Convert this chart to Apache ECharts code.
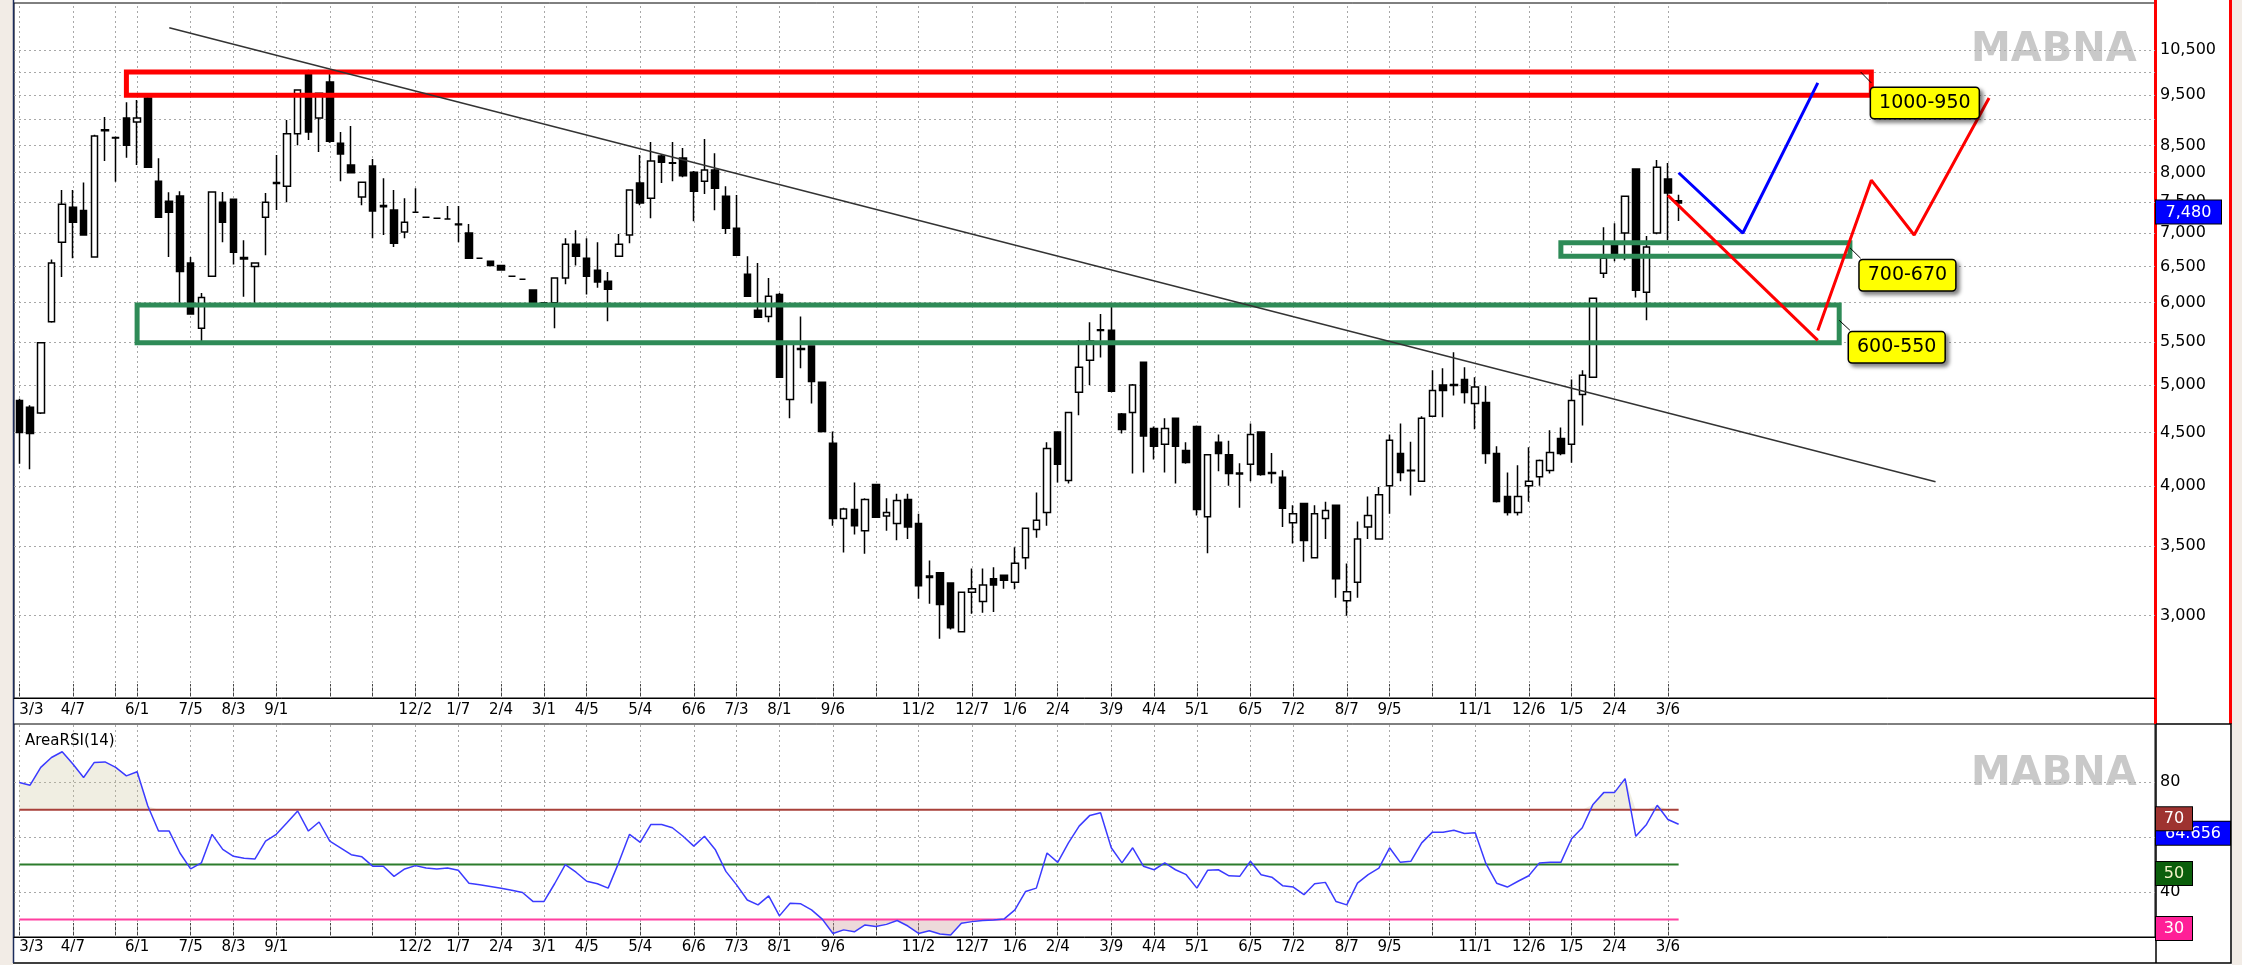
<!DOCTYPE html>
<html>
<head>
<meta charset="utf-8">
<title>MABNA weekly</title>
<script src="https://cdn.jsdelivr.net/npm/echarts@6.0.0/dist/echarts.min.js"></script>
<style>
  html, body { margin: 0; padding: 0; background: #fff; }
  #chart { width: 2242px; height: 965px; }
</style>
</head>
<body>
<div id="chart"></div>
<script>
// weekly candles, oldest first
const opens = [
  4830, 4760, 4700, 5750, 6860, 7410, 7360, 6640, 8780, 8650,
  9030, 8950, 9440, 7850, 7510, 7600, 6550, 5670, 6360, 7495,
  7545, 6630, 6500, 7250, 7810, 7765, 8720, 10000, 9030, 9780,
  8540, 8140, 7580, 8120, 7440, 7365, 7015, 7330, 7250, 7235,
  7220, 7140, 7000, 6620, 6575, 6515, 6360, 6320, 6170, 6000,
  6000, 6335, 6830, 6620, 6447, 6290, 6650, 6970, 7820, 7560,
  8300, 8180, 8265, 8010, 7850, 8047, 7595, 7075, 6390, 5900,
  5820, 6110, 4843, 5420, 5450, 5030, 4395, 3720, 3795, 3620,
  4010, 3740, 3680, 3880, 3680, 3275, 3300, 3225, 2895, 3160,
  3095, 3255, 3280, 3230, 3410, 3630, 3770, 4505, 4047, 4920,
  5281, 5650, 5644, 4690, 4705, 5258, 4540, 4385, 4645, 4325,
  4560, 3735, 4405, 4285, 4115, 4195, 4505, 4120, 4075, 3685,
  3845, 3410, 3720, 3830, 3100, 3230, 3650, 3555, 4000, 4295,
  4140, 4040, 4665, 5000, 5005, 5062, 4800, 4810, 4295, 3905,
  3770, 4000, 4080, 4138, 4440, 4385, 4895, 5085, 6405, 6815,
  7000, 8065, 6140, 7000, 7890, 7520
];
const closes = [
  4500, 4490, 5490, 6550, 7460, 7170, 6970, 8680, 8800, 8640,
  8500, 9030, 8100, 7250, 7330, 6430, 5850, 6070, 7665, 7170,
  6710, 6610, 6550, 7495, 7830, 8720, 9610, 8755, 9540, 8580,
  8340, 8000, 7835, 7350, 7420, 6845, 7170, 7330, 7250, 7235,
  7220, 7130, 6620, 6620, 6515, 6450, 6360, 6320, 6000, 6000,
  6335, 6830, 6650, 6360, 6280, 6180, 6830, 7700, 7480, 8210,
  8190, 8170, 7945, 7680, 8047, 7730, 7075, 6665, 6085, 5810,
  6085, 5085, 5500, 5410, 5040, 4510, 3720, 3800, 3660, 3880,
  3730, 3770, 3871, 3650, 3205, 3265, 3075, 2920, 3160, 3185,
  3210, 3210, 3245, 3370, 3640, 3705, 4345, 4195, 4705, 5200,
  5510, 5640, 4930, 4530, 5000, 4465, 4365, 4540, 4365, 4212,
  3795, 4285, 4295, 4110, 4105, 4480, 4100, 4110, 3805, 3760,
  3543, 3760, 3786, 3255, 3164, 3555, 3745, 3922, 4423, 4118,
  4135, 4645, 4940, 4940, 4995, 4918, 4978, 4295, 3862, 3770,
  3905, 4040, 4231, 4305, 4295, 4832, 5110, 6060, 6620, 6695,
  7595, 6168, 6785, 8100, 7650, 7480
];
const lows = [
  4200, 4150, 4690, 5740, 6350, 6620, 6960, 6630, 8210, 7840,
  8270, 8140, 8090, 7240, 6640, 6000, 5840, 5510, 6350, 6860,
  6530, 6080, 6000, 6665, 7365, 7495, 8500, 8600, 8375, 8550,
  7850, 7990, 7445, 6920, 6970, 6785, 6920, 7320, 7250, 7235,
  7220, 6860, 6610, 6610, 6510, 6445, 6360, 6320, 5990, 6000,
  5670, 6250, 6515, 6110, 6200, 5757, 6640, 6845, 7445, 7235,
  7820, 7850, 7920, 7186, 7630, 7364, 6985, 6660, 6080, 5800,
  5745, 5080, 4645, 5190, 4800, 4500, 3660, 3450, 3590, 3440,
  3725, 3620, 3545, 3555, 3115, 3080, 2850, 2910, 2890, 3013,
  3020, 3025, 3185, 3180, 3325, 3565, 3660, 4030, 4020, 4675,
  5000, 5315, 4920, 4490, 4110, 4120, 4240, 4120, 4020, 4200,
  3745, 3445, 4130, 4000, 3810, 4040, 4090, 4020, 3650, 3520,
  3380, 3405, 3555, 3122, 3000, 3122, 3555, 3550, 3760, 4040,
  3915, 4035, 4660, 4655, 4885, 4800, 4532, 4200, 3855, 3745,
  3745, 3860, 4000, 4110, 4280, 4210, 4570, 5080, 6335, 6575,
  6590, 6070, 5770, 6980, 6890, 7190
];
const highs = [
  4850, 4780, 5500, 6600, 7700, 7700, 7830, 8700, 9050, 8670,
  9350, 9400, 9500, 8260, 7660, 7680, 6640, 6130, 7680, 7665,
  7550, 6890, 6560, 7650, 8320, 8990, 9620, 10050, 9550, 10000,
  8755, 8870, 7840, 8245, 7905, 7700, 7560, 7730, 7250, 7235,
  7430, 7430, 7140, 6630, 6580, 6520, 6360, 6320, 6170, 6000,
  6340, 6920, 7045, 6920, 6860, 6420, 6985, 7710, 8320, 8565,
  8340, 8565, 8450, 8030, 8620, 8355, 7765, 7615, 6650, 6550,
  6335, 6130, 5510, 5820, 5460, 5040, 4510, 3810, 4030, 3890,
  4015, 3890, 3930, 3930, 3760, 3390, 3305, 3230, 3165, 3330,
  3330, 3340, 3285, 3490, 3645, 3940, 4405, 4510, 4710, 5520,
  5745, 5850, 5950, 4700, 5010, 5265, 4560, 4645, 4650, 4405,
  4570, 4290, 4480, 4420, 4205, 4590, 4510, 4300, 4140, 3830,
  3850, 3830, 3860, 3835, 3367, 3695, 3905, 3990, 4480, 4590,
  4410, 4665, 5165, 5190, 5375, 5200, 5085, 4990, 4365, 4120,
  4185, 4355, 4240, 4522, 4550, 5060, 5165, 6070, 7090, 7155,
  7600, 8070, 6955, 8230, 8175, 7620
];
// AreaRSI(14), one value per candle
const rsi = [
  79.9, 78.9, 85.4, 89.0, 91.1, 86.6, 81.7, 87.2, 87.4, 85.4,
  82.3, 83.8, 71.3, 62.2, 62.2, 54.2, 48.4, 50.6, 61.0, 55.5,
  53.0, 52.3, 52.0, 58.5, 61.0, 65.2, 69.5, 62.2, 65.5, 58.5,
  56.1, 53.6, 52.8, 49.4, 49.4, 45.7, 48.4, 49.6, 48.7, 48.4,
  48.7, 47.9, 43.2, 42.6, 42.0, 41.4, 40.6, 39.8, 36.5, 36.5,
  43.0, 50.0, 47.2, 43.9, 43.0, 41.4, 50.8, 61.0, 58.1, 64.6,
  64.6, 63.4, 60.3, 56.7, 60.3, 55.5, 47.5, 42.6, 37.1, 35.3,
  38.6, 31.3, 35.9, 35.7, 33.5, 30.1, 24.9, 26.2, 25.5, 28.0,
  27.4, 28.2, 29.6, 27.6, 24.9, 25.9, 24.7, 24.3, 28.6, 29.2,
  29.6, 29.8, 30.2, 33.5, 40.2, 41.4, 54.2, 50.8, 57.9, 64.0,
  67.9, 68.9, 56.1, 50.6, 56.1, 49.4, 48.1, 50.6, 48.1, 46.3,
  41.4, 47.9, 48.1, 45.9, 45.7, 51.2, 46.3, 45.4, 42.3, 41.8,
  39.0, 43.0, 43.5, 36.5, 35.3, 43.2, 46.3, 48.7, 56.1, 50.8,
  51.2, 57.9, 61.8, 61.8, 62.5, 61.3, 61.6, 50.3, 43.2, 41.8,
  43.9, 45.9, 50.6, 50.8, 50.8, 59.4, 63.4, 71.9, 76.2, 76.2,
  81.3, 60.3, 64.6, 71.6, 66.4, 64.656
];

// x ticks (candle index) and labels
const tickIdx = [0, 5, 9, 11, 16, 20, 24, 29, 33, 37, 41, 45, 49, 53, 58, 63, 67, 71,
  76, 80, 84, 89, 93, 97, 102, 106, 110, 115, 119, 124, 128, 132, 136, 141, 145, 149, 154];
const tickLbl = ['3/3', '4/7', '', '6/1', '7/5', '8/3', '9/1', '', '', '12/2', '1/7', '2/4', '3/1', '4/5', '5/4', '6/6', '7/3', '8/1',
  '9/6', '', '11/2', '12/7', '1/6', '2/4', '3/9', '4/4', '5/1', '6/5', '7/2', '8/7', '9/5', '', '11/1', '12/6', '1/5', '2/4', '3/6'];

// price scale
const priceGrid = [3000, 3500, 4000, 4500, 5000, 5500, 6000, 6500, 7000, 7500, 8000, 8500, 9000, 9500, 10000, 10500];
const priceLbl = [3000, 3500, 4000, 4500, 5000, 5500, 6000, 6500, 7000, 7500, 8000, 8500, 9500, 10500];
const lastPrice = 7480;
const rsiLbl = [40, 60, 80];
const rsiLevels = [70, 50, 30];
const lastRsi = 64.656;

// drawings on the price chart
const trendLine = [[14, 11030], [179, 4035]];
const blueZig = [[155, 8000], [161, 7000], [168, 9760]];
const redZigA = [[154, 7610], [168, 5520]];
const redZigB = [[168, 5640], [173, 7870], [177, 6970], [184, 9440]];
const zoneNames = ['1000-950', '700-670', '600-550'];
const zoneX = [[10, 173], [144, 171], [11, 170]];
const zoneY = [[10000, 9500], [6850, 6650], [5970, 5490]];
const noteAt = [[178, 9357], [176, 6376], [175, 5435]];
const noteLead = [[[172, 10000], [173, 9760]], [[171, 6775], [172, 6620]], [[170, 5770], [171, 5644]]];

const FONT = 'DejaVu Sans';
const N = 200;
const cats = Array.from({length: N}, (_, i) => String(i));
const lblOf = {};
tickIdx.forEach((i, k) => { lblOf[i] = tickLbl[k]; });
const candles = opens.map((o, i) => [o, closes[i], lows[i], highs[i]]);

const vGrid = () => ({
  silent: true, symbol: 'none', z: 1,
  label: {show: false},
  lineStyle: {color: '#a8a8a8', type: [2, 3], width: 1},
  data: tickIdx.map(i => ({xAxis: i}))
});

function xAxisOf(gi, margin) {
  return {
    type: 'category', gridIndex: gi, data: cats, boundaryGap: true,
    axisLine: {show: true, lineStyle: {color: '#000'}},
    axisTick: {show: true, inside: true, length: 14, alignWithLabel: true,
      interval: i => i in lblOf, lineStyle: {color: '#444'}},
    axisLabel: {interval: i => !!lblOf[i], formatter: v => lblOf[+v] || '',
      color: '#000', fontSize: 15, fontFamily: FONT, margin: margin, alignMinLabel: 'left'},
    splitLine: {show: false}
  };
}

const tagStyle = (bg, fg, w) => ({backgroundColor: bg, color: fg, fontSize: 16, fontFamily: FONT,
  width: w, align: 'center', padding: [4, 0, 3, 0], lineHeight: 18, borderColor: '#000', borderWidth: 1});

// value tag on the right scale: a bare axis that only carries one label
function tagAxis(type, gi, min, max, val, text, style) {
  return {type: type, gridIndex: gi, position: 'right', min: min, max: max,
    axisLine: {show: false}, axisTick: {show: false}, splitLine: {show: false},
    axisLabel: {customValues: [val], verticalAlign: 'top', margin: 1, hideOverlap: false,
      formatter: () => '{t|' + text + '}', rich: {t: style}}};
}

const chart = echarts.init(document.getElementById('chart'));
chart.setOption({
  animation: false,
  backgroundColor: '#fff',
  title: {text: 'AreaRSI(14)', left: 20, top: 729,
    textStyle: {fontSize: 15, fontWeight: 'normal', color: '#000', fontFamily: FONT}},
  grid: [
    {left: 14, top: 3, width: 2141, height: 695, show: true, borderColor: '#000', borderWidth: 1, backgroundColor: '#fff'},
    {left: 14, top: 724, width: 2141, height: 213, show: true, borderColor: '#000', borderWidth: 1, backgroundColor: '#fff'}
  ],
  xAxis: [xAxisOf(0, 5), xAxisOf(1, 3)],
  yAxis: [
    {type: 'log', gridIndex: 0, position: 'right', min: 2500, max: 11650,
      axisLine: {show: false},
      axisTick: {show: false, customValues: priceGrid},
      axisLabel: {customValues: priceLbl, formatter: v => Math.round(v).toLocaleString('en-US'),
        color: '#000', fontSize: 16, fontFamily: FONT, margin: 5},
      splitLine: {show: true, lineStyle: {color: '#a8a8a8', type: [2, 3]}}},
    {type: 'value', gridIndex: 1, position: 'right', min: 23.6, max: 101.2,
      axisLine: {show: false},
      axisTick: {show: false, customValues: rsiLbl},
      axisLabel: {customValues: rsiLbl, color: '#000', fontSize: 16, fontFamily: FONT, margin: 5},
      splitLine: {show: true, lineStyle: {color: '#a8a8a8', type: [2, 3]}}},
    tagAxis('log', 0, 2500, 11650, lastPrice, lastPrice.toLocaleString('en-US'), tagStyle('#0000ff', '#fff', 65)),
    tagAxis('value', 1, 23.6, 101.2, rsiLevels[2], '30', tagStyle('#ff1f97', '#fff', 36)),
    tagAxis('value', 1, 23.6, 101.2, rsiLevels[1], '50', tagStyle('#0b5e0b', '#f4f4c8', 36)),
    tagAxis('value', 1, 23.6, 101.2, lastRsi, String(lastRsi), tagStyle('#0000ff', '#fff', 74)),
    tagAxis('value', 1, 23.6, 101.2, rsiLevels[0], '70', tagStyle('#9e3330', '#fff', 36))
  ],
  series: [
    {name: 'price', type: 'candlestick', xAxisIndex: 0, yAxisIndex: 0, data: candles, barWidth: 7, z: 3,
      itemStyle: {color: '#fff', color0: '#000', borderColor: '#000', borderColor0: '#000', borderWidth: 1.5},
      markLine: vGrid(),
      markArea: {silent: true, z: 4,
        data: zoneNames.map((n, k) => [
          {coord: [zoneX[k][0], zoneY[k][0]],
            itemStyle: {color: 'rgba(0,0,0,0)', borderColor: k === 0 ? '#ff0000' : '#2e8b57', borderWidth: 5}},
          {coord: [zoneX[k][1], zoneY[k][1]]}
        ])},
      markPoint: {silent: true, symbol: 'rect', symbolSize: 1, z: 6,
        itemStyle: {color: 'rgba(0,0,0,0)'},
        label: {show: true, position: 'inside', formatter: p => p.name, color: '#000', fontSize: 19, fontFamily: FONT,
          backgroundColor: '#ffff00', borderColor: '#000', borderWidth: 1.5, borderRadius: 3, padding: [6, 8, 5, 8],
          shadowColor: 'rgba(0,0,0,0.45)', shadowBlur: 4, shadowOffsetX: 3, shadowOffsetY: 3},
        data: zoneNames.map((n, k) => ({name: n, coord: noteAt[k], label: {offset: k === 0 ? [0, 1] : [4, 0]}}))}
    },
    {type: 'line', xAxisIndex: 0, yAxisIndex: 0, data: trendLine, symbol: 'none', silent: true, z: 5,
      lineStyle: {color: '#333', width: 1.5},
      markLine: {silent: true, symbol: 'none', label: {show: false},
        lineStyle: {color: '#000', width: 1, type: 'solid'},
        data: noteLead.map(s => [{coord: s[0]}, {coord: s[1]}])}},
    {type: 'line', xAxisIndex: 0, yAxisIndex: 0, data: blueZig, symbol: 'none', silent: true, z: 5,
      lineStyle: {color: '#0000ff', width: 3}},
    {type: 'line', xAxisIndex: 0, yAxisIndex: 0, data: redZigA, symbol: 'none', silent: true, z: 5,
      lineStyle: {color: '#ff0000', width: 3}},
    {type: 'line', xAxisIndex: 0, yAxisIndex: 0, data: redZigB, symbol: 'none', silent: true, z: 5,
      lineStyle: {color: '#ff0000', width: 3}},

    // RSI panel
    {type: 'line', xAxisIndex: 1, yAxisIndex: 1, data: rsi.map(v => Math.max(v, 70)), symbol: 'none', silent: true, z: 2,
      lineStyle: {width: 0}, areaStyle: {origin: 70, color: 'rgba(200,195,150,0.4)'}},
    {type: 'line', xAxisIndex: 1, yAxisIndex: 1, data: rsi.map(v => Math.min(v, 30)), symbol: 'none', silent: true, z: 2,
      lineStyle: {width: 0}, areaStyle: {origin: 30, color: 'rgba(205,150,150,0.5)'}},
    ...rsiLevels.map((lv, k) => ({type: 'line', xAxisIndex: 1, yAxisIndex: 1, symbol: 'none', silent: true, z: 3,
      data: [[0, lv], [rsi.length - 1, lv]],
      lineStyle: {color: ['#a8403a', '#2c7c2c', '#ff3fa0'][k], width: 2}})),
    {type: 'line', xAxisIndex: 1, yAxisIndex: 1, data: rsi, symbol: 'none', silent: true, z: 5,
      lineStyle: {color: '#3b3bff', width: 1.5},
      markLine: vGrid()}
  ],
  graphic: [
    {type: 'rect', silent: true, shape: {x: 0, y: 0, width: 13, height: 965}, style: {fill: '#f2ece6'}},
    {type: 'rect', silent: true, shape: {x: 2232, y: 0, width: 10, height: 965}, style: {fill: '#f2ece6'}},
    {type: 'rect', silent: true, shape: {x: 2154, y: 0, width: 3, height: 724}, style: {fill: '#ff0000'}},
    {type: 'rect', silent: true, shape: {x: 2229, y: 0, width: 3, height: 724}, style: {fill: '#ff0000'}},
    {type: 'polyline', silent: true, shape: {points: [[2156, 724], [2231, 724], [2231, 963], [13, 963]]},
      style: {stroke: '#000', lineWidth: 1.5, fill: null}},
    {type: 'line', silent: true, shape: {x1: 2156, y1: 724, x2: 2156, y2: 963}, style: {stroke: '#000', lineWidth: 1.5}},
    {type: 'line', silent: true, shape: {x1: 13.5, y1: 0, x2: 13.5, y2: 963}, style: {stroke: '#1c2c5c', lineWidth: 1.5}},
    {type: 'text', silent: true, x: 1971, y: 31,
      style: {text: 'MABNA', fontSize: 40, fontWeight: 'bold', fontFamily: FONT, fill: '#c9c9c9'}},
    {type: 'text', silent: true, x: 1971, y: 755,
      style: {text: 'MABNA', fontSize: 40, fontWeight: 'bold', fontFamily: FONT, fill: '#c9c9c9'}}
  ]
});
</script>
</body>
</html>
